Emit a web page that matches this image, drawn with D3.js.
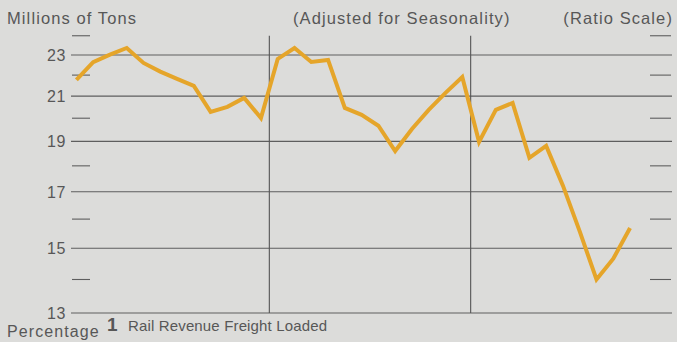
<!DOCTYPE html>
<html>
<head>
<meta charset="utf-8">
<script src="https://cdn.jsdelivr.net/npm/d3@7/dist/d3.min.js"></script>
<style>
  html, body { margin: 0; padding: 0; background: #dcdcda; }
  svg { display: block; }
  text { font-family: "Liberation Sans", Arial, Helvetica, sans-serif; fill: #575757; }
</style>
</head>
<body>
<svg id="chart" width="677" height="342"></svg>
<script>
// Rail revenue freight loaded, monthly, millions of tons (seasonally adjusted)
const years = ["Year 1", "Year 2", "Year 3"];
const monthsPerYear = 12;
const tonnage = [
  // year 1
  21.77, 22.64, 23.02, 23.36, 22.60, 22.17, 21.82, 21.48, 20.28, 20.51, 20.92, 20.01,
  // year 2
  22.80, 23.36, 22.65, 22.75, 20.46, 20.15, 19.67, 18.60, 19.53, 20.37, 21.15, 21.91,
  // year 3 (through October)
  18.98, 20.37, 20.69, 18.32, 18.81, 17.23, 15.57, 14.00, 14.66, 15.69
];
const majorTicks = [23, 21, 19, 17, 15, 13];
const minorTicks = [24, 22, 20, 18, 16, 14];

const svg = d3.select("#chart");

const x = d3.scaleLinear()
  .domain([0, years.length * monthsPerYear])
  .range([68, 672]);

const y = d3.scaleLog()
  .domain([13, 23])
  .range([313, 55]);

const gridLeft = 71, gridRight = 672;

// major gridlines with labels
const grid = svg.append("g");
grid.selectAll("line.major")
  .data(majorTicks)
  .join("line")
  .attr("x1", gridLeft).attr("x2", gridRight)
  .attr("y1", d => y(d)).attr("y2", d => y(d))
  .attr("stroke", "#5e5e5e").attr("stroke-width", 1.1);

grid.selectAll("text.tick")
  .data(majorTicks)
  .join("text")
  .attr("x", 66)
  .attr("y", d => y(d) + 6)
  .attr("text-anchor", "end")
  .style("font-size", "16px")
  .style("letter-spacing", "0.6px")
  .text(d => d);

// minor dashes at both edges
[[72, 90], [650, 671]].forEach(([a, b]) => {
  grid.append("g").selectAll("line")
    .data(minorTicks)
    .join("line")
    .attr("x1", a).attr("x2", b)
    .attr("y1", d => y(d)).attr("y2", d => y(d))
    .attr("stroke", "#5e5e5e").attr("stroke-width", 1.1);
});

// year separators
grid.selectAll("line.year")
  .data(d3.range(1, years.length))
  .join("line")
  .attr("x1", d => x(d * monthsPerYear)).attr("x2", d => x(d * monthsPerYear))
  .attr("y1", y(24)).attr("y2", y(13))
  .attr("stroke", "#555").attr("stroke-width", 1.1);

// tonnage line
const line = d3.line()
  .x((d, i) => x(i + 0.5))
  .y(d => y(d));

svg.append("path")
  .datum(tonnage)
  .attr("d", line)
  .attr("fill", "none")
  .attr("stroke", "#e5a52a")
  .attr("stroke-width", 4)
  .attr("stroke-linejoin", "miter");

// titles
const titleStyle = sel => sel.style("font-size", "16.5px").style("letter-spacing", "1.1px");
svg.append("text").attr("x", 7).attr("y", 24).call(titleStyle).text("Millions of Tons");
svg.append("text").attr("x", 293).attr("y", 24).call(titleStyle).text("(Adjusted for Seasonality)");
svg.append("text").attr("x", 673).attr("y", 24).attr("text-anchor", "end").call(titleStyle).text("(Ratio Scale)");

// footer
svg.append("text").attr("x", 7).attr("y", 337)
  .style("font-size", "16px").style("letter-spacing", "1.1px").text("Percentage");
svg.append("text").attr("x", 107).attr("y", 331)
  .style("font-size", "19px").style("font-weight", "bold").text("1");
svg.append("text").attr("x", 128).attr("y", 331)
  .style("font-size", "15px").style("letter-spacing", "0.15px")
  .text("Rail Revenue Freight Loaded");
</script>
</body>
</html>
